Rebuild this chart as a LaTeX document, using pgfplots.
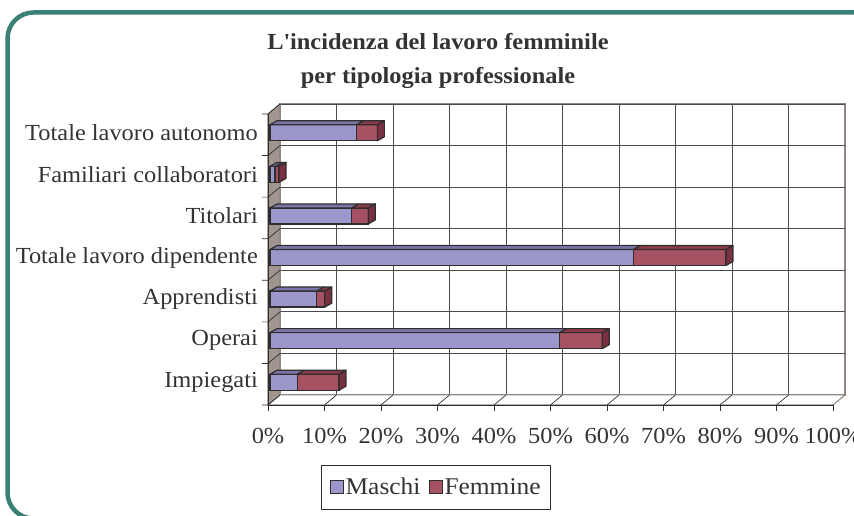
\documentclass[border=0pt]{standalone}
\usepackage{pgfplots}
\pgfplotsset{compat=1.18}
\usepackage{pgfplotstable}
\usepackage{fontspec}
\setmainfont{Liberation Serif}[FakeStretch=1.06]
\definecolor{frame}{HTML}{3A8074}
\definecolor{masc}{HTML}{9C97CA}
\definecolor{femm}{HTML}{A65262}
\definecolor{mascD}{HTML}{7D75A8}
\definecolor{femmD}{HTML}{8A3A4A}
\definecolor{femmS}{HTML}{7A3040}
\definecolor{wall}{HTML}{A19590}
\definecolor{edge}{HTML}{8E8480}
\definecolor{txt}{HTML}{333333}
\definecolor{outl}{HTML}{2E2E2E}
\newcommand\lbl{\fontsize{23}{27}\selectfont}

\pgfplotstableread{
idx m f
0 4.8 7.4
1 51.2 7.6
2 8.3 1.4
3 64.3 16.4
4 14.4 3.0
5 0.9 0.7
6 15.3 3.7
}\data

\begin{document}
\begin{tikzpicture}[x=1pt,y=1pt]
\useasboundingbox (0,0) rectangle (854,516);
\draw[frame, line width=4.5pt, rounded corners=26pt] (7.5,-2.5) rectangle (880,503.5);
\node[font=\bfseries\fontsize{23}{27}\selectfont, text=txt] at (438,474) {L\textquotesingle incidenza del lavoro femminile};
\node[font=\bfseries\fontsize{23}{27}\selectfont, text=txt] at (438,438) {per tipologia professionale};

% background walls
\begin{axis}[at={(280pt,121pt)}, anchor=south west, scale only axis,
  width=565pt, height=291pt, xmin=0, xmax=100, ymin=-0.5, ymax=6.5,
  axis line style={edge, line width=1.2pt},
  xtick={0,10,...,100}, xmajorgrids,
  major grid style={black!70, line width=0.8pt},
  ytick={0,...,6},
  yticklabels={Impiegati, Operai, Apprendisti, Totale lavoro dipendente, Titolari, Familiari collaboratori, Totale lavoro autonomo},
  extra y ticks={-0.5,0.5,...,6.5}, extra y tick labels={},
  extra y tick style={grid=major, major tick length=0pt},
  major tick length=0pt,
  /pgf/number format/assume math mode=true,
  xticklabel={\pgfmathprintnumber{\tick}\%},
  xticklabel style={anchor=center, xshift=-12pt, yshift=-41pt, font=\lbl, text=txt},
  yticklabel style={anchor=east, inner sep=0pt, xshift=-22pt, yshift=-8pt, font=\lbl, text=txt},
  clip=false]
\filldraw[fill=wall, draw=edge, line width=1pt] (axis cs:0,-0.5) -- (axis cs:0,6.5) -- ([shift={(-12pt,-10pt)}]axis cs:0,6.5) -- ([shift={(-12pt,-10pt)}]axis cs:0,-0.5) -- cycle;
\filldraw[fill=white, draw=edge, line width=1pt] (axis cs:0,-0.5) -- (axis cs:100,-0.5) -- ([shift={(-12pt,-10pt)}]axis cs:100,-0.5) -- ([shift={(-12pt,-10pt)}]axis cs:0,-0.5) -- cycle;
\pgfplotsinvokeforeach{10,20,...,90}{\draw[outl, line width=0.7pt] (axis cs:#1,-0.5) -- ([shift={(-12pt,-10pt)}]axis cs:#1,-0.5);}
\pgfplotsinvokeforeach{0,10,...,100}{\draw[outl, line width=0.8pt] ([shift={(-12pt,-10pt)}]axis cs:#1,-0.5) -- ([shift={(-12pt,-16pt)}]axis cs:#1,-0.5);}
\draw[outl, line width=0.8pt] ([shift={(-12pt,-10pt)}]axis cs:0,-0.5) -- ([shift={(-12pt,-10pt)}]axis cs:100,-0.5);
\draw[outl, line width=0.8pt] ([shift={(-12pt,-10pt)}]axis cs:0,-0.5) -- ([shift={(-12pt,-10pt)}]axis cs:0,6.5);
\pgfplotsinvokeforeach{-0.5,0.5,...,6.5}{\draw[outl, line width=0.7pt] (axis cs:0,#1) -- ([shift={(-12pt,-10pt)}]axis cs:0,#1) -- ([shift={(-18pt,-10pt)}]axis cs:0,#1);}
\end{axis}

% bars
\begin{axis}[at={(270pt,113pt)}, anchor=south west, scale only axis,
  width=565pt, height=291pt, xmin=0, xmax=100, ymin=-0.5, ymax=6.5,
  hide axis, xbar stacked, bar width=16pt, clip=false,
  legend style={at={(0.294,-0.289)}, anchor=center, draw=outl, fill=white,
    font=\fontsize{24}{28}\selectfont, text=txt, legend columns=2, inner xsep=8pt, inner ysep=11pt,
    /tikz/every even column/.append style={column sep=6pt}},
  legend cell align=left]
\pgfplotsinvokeforeach{0,...,6}{%
  \pgfplotstablegetelem{#1}{m}\of\data \let\mv\pgfplotsretval
  \pgfplotstablegetelem{#1}{f}\of\data \let\fv\pgfplotsretval
  \pgfmathsetmacro\tv{\mv+\fv}%
  \edef\temp{%
    \noexpand\filldraw[fill=mascD, draw=outl, line width=1.2pt, line join=round]
      ([yshift=8pt]axis cs:0,#1) -- ([yshift=8pt]axis cs:\mv,#1) -- ([shift={(7pt,12pt)}]axis cs:\mv,#1) -- ([shift={(7pt,12pt)}]axis cs:0,#1) -- cycle;
    \noexpand\filldraw[fill=femmD, draw=outl, line width=1.2pt, line join=round]
      ([yshift=8pt]axis cs:\mv,#1) -- ([yshift=8pt]axis cs:\tv,#1) -- ([shift={(7pt,12pt)}]axis cs:\tv,#1) -- ([shift={(7pt,12pt)}]axis cs:\mv,#1) -- cycle;
    \noexpand\filldraw[fill=femmS, draw=outl, line width=1.2pt, line join=round]
      ([yshift=8pt]axis cs:\tv,#1) -- ([shift={(7pt,12pt)}]axis cs:\tv,#1) -- ([shift={(7pt,-4pt)}]axis cs:\tv,#1) -- ([yshift=-8pt]axis cs:\tv,#1) -- cycle;
  }\temp
}
\addplot[fill=masc, draw=outl, line width=1.2pt,
  legend image code/.code={\draw[fill=masc, draw=outl, line width=1pt] (0pt,-6.5pt) rectangle (13pt,7pt);}] table[x=m, y=idx] {\data};
\addplot[fill=femm, draw=outl, line width=1.2pt,
  legend image code/.code={\draw[fill=femm, draw=outl, line width=1pt] (0pt,-6.5pt) rectangle (13pt,7pt);}] table[x=f, y=idx] {\data};
\legend{Maschi, Femmine}
\end{axis}
\end{tikzpicture}
\end{document}
